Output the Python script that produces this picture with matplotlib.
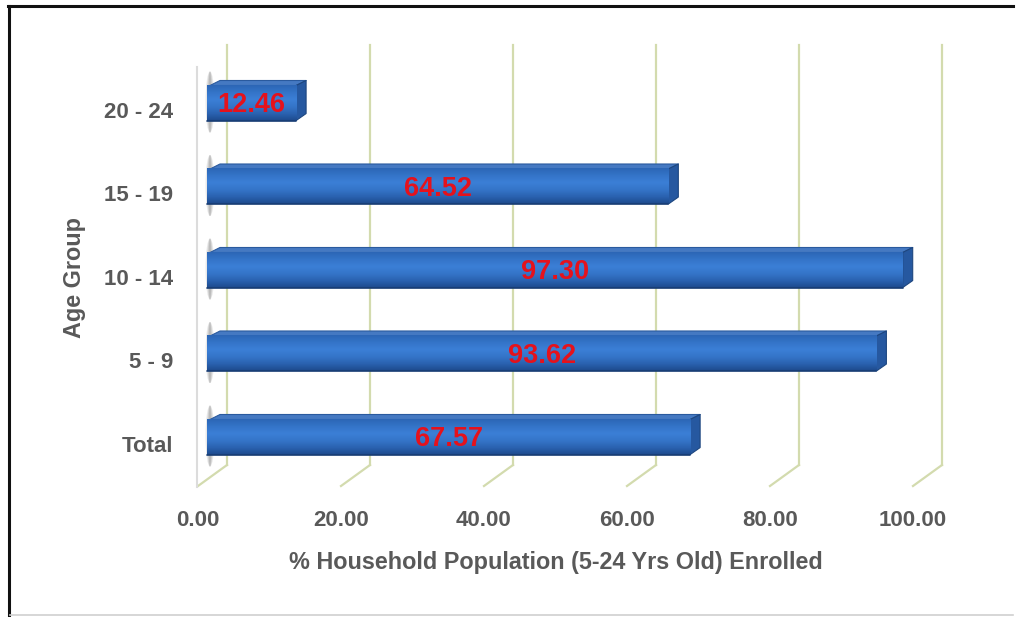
import matplotlib
matplotlib.use("Agg")
import numpy as np
import matplotlib.pyplot as plt
from matplotlib import transforms
from matplotlib import font_manager
from matplotlib.patches import Polygon, Ellipse
from matplotlib.lines import Line2D
from matplotlib.colors import LinearSegmentedColormap

# ---- data ----
categories = ["Total", "5 - 9", "10 - 14", "15 - 19", "20 - 24"]
enrolled = [67.57, 93.62, 97.30, 64.52, 12.46]
x_ticks = [0, 20, 40, 60, 80, 100]
x_tick_labels = ["0.00", "20.00", "40.00", "60.00", "80.00", "100.00"]
x_title = "% Household Population (5-24 Yrs Old) Enrolled"
y_title = "Age Group"

installed = {f.name for f in font_manager.fontManager.ttflist}
NARROW = "Liberation Sans Narrow" in installed
FONT = ["Liberation Sans Narrow" if NARROW else "Liberation Sans", "DejaVu Sans"]
TICK_SIZE = 18 if NARROW else 16
VALUE_SIZE = 21 if NARROW else 19.5
TITLE_SIZE = 18 if NARROW else 16.8

TEXT_GREY = "#595959"
GRID = "#d3dbae"
VALUE_RED = "#e5121c"

W, H = 1020, 617
DPI = 100
fig = plt.figure(figsize=(W / DPI, H / DPI), dpi=DPI)
fig.patch.set_facecolor("white")

# plot area (front face of the bars starts at x = 0)
ax = fig.add_axes([207 / W, (H - 466) / H, 715 / W, 421 / H])
ax.set_xlim(0, 100)
ax.set_ylim(-0.347, 4.695)
ax.set_autoscale_on(False)
ax.axis("off")

PIX = transforms.IdentityTransform()


def to_px(x, y):
    return ax.transData.transform((x, y))


def shifted(base, dx, dy):
    return transforms.offset_copy(base, fig=fig, x=dx, y=dy, units="dots")


def add_line(xs, ys, **kw):
    ln = Line2D(xs, ys, transform=PIX, clip_on=False, **kw)
    ax.add_artist(ln)


def add_patch(p):
    p.set_clip_on(False)
    ax.add_artist(p)


# depth of the 3-D look, in pixels
DEPTH_BACK = 20      # back wall relative to bar start
FLOOR_FRONT = -9     # floor front edge relative to bar start
BAR_DEPTH = (10, 5)

# ---- gridlines: back wall verticals + floor diagonals ----
x0_axes, y0_axes = ax.transAxes.transform((0, 0))
_, y1_axes = ax.transAxes.transform((0, 1))
for t in x_ticks:
    px, _ = to_px(t, 0)
    xb = px + DEPTH_BACK
    xf = px + FLOOR_FRONT
    add_line([xb, xb], [y0_axes + 1, y1_axes], color=GRID, lw=1.6, zorder=1)
    add_line([xb, xf], [y0_axes + 1, y0_axes - 20], color=GRID, lw=1.6, zorder=1)

# left wall front edge
xw = x0_axes + FLOOR_FRONT - 1
add_line([xw, xw], [y0_axes - 21, y1_axes - 22], color="#dcdcdc", lw=1.5, zorder=1)

# ---- bars ----
bar_h = 0.42
front_cmap = LinearSegmentedColormap.from_list(
    "front", ["#1d4a8c", "#2a62b0", "#3575c9", "#3b7fd6", "#3474c8", "#2c66b6"])
grad = np.linspace(0, 1, 64).reshape(-1, 1)

for i, v in enumerate(enrolled):
    lo, hi = i - bar_h / 2, i + bar_h / 2
    (xl, yb) = to_px(0, lo)
    (xr, yt) = to_px(v, hi)
    dx, dy = BAR_DEPTH

    # soft shadow of the bar end on the left wall
    for k, a in ((9, 0.18), (6, 0.25), (3, 0.3)):
        add_patch(Ellipse((xl + 3, (yb + yt) / 2 + 1), k, (yt - yb) + 26,
                          transform=PIX, facecolor="#8a8a8a", edgecolor="none",
                          alpha=a, zorder=2))

    # top face
    add_patch(Polygon([(xl + 3, yt), (xr, yt), (xr + dx, yt + dy), (xl + 3 + dx, yt + dy)],
                      closed=True, transform=PIX, facecolor="#4579c2",
                      edgecolor="#2a5a9e", lw=0.8, joinstyle="round", zorder=3))
    # right side face
    add_patch(Polygon([(xr, yb), (xr, yt), (xr + dx, yt + dy), (xr + dx, yb + dy + 2)],
                      closed=True, transform=PIX, facecolor="#2658a0",
                      edgecolor="#1d467f", lw=0.8, joinstyle="round", zorder=3))

    # front face
    ax.barh(i, v, height=bar_h, left=0, color="#2f6cbf", edgecolor="none",
            zorder=4, clip_on=False)
    ax.imshow(grad, extent=[0, v, lo, hi], origin="lower", aspect="auto",
              cmap=front_cmap, zorder=4.5, clip_on=False, interpolation="bilinear")
    ax.plot([0, v], [lo, lo], color="#173c73", lw=1.2, zorder=5,
            solid_capstyle="round", clip_on=False)

    # value label
    ax.text(v / 2, i, f"{v:.2f}", transform=shifted(ax.transData, 0, -2),
            ha="center", va="center", color=VALUE_RED, fontsize=VALUE_SIZE,
            fontweight="bold", family=FONT, zorder=6, clip_on=False)

ax.set_xlim(0, 100)
ax.set_ylim(-0.347, 4.695)

# ---- tick labels ----
xlab_tr = transforms.blended_transform_factory(ax.transData, ax.transAxes)
for t, lab in zip(x_ticks, x_tick_labels):
    ax.text(t, 0, lab, transform=shifted(xlab_tr, FLOOR_FRONT, -55),
            ha="center", va="center", color=TEXT_GREY, fontsize=TICK_SIZE,
            fontweight="bold", family=FONT, clip_on=False)

for i, cat in enumerate(categories):
    ax.text(0, i, cat, transform=shifted(ax.transData, -34, -9),
            ha="right", va="center", color=TEXT_GREY, fontsize=TICK_SIZE,
            fontweight="bold", family=FONT, clip_on=False)

fig.text(556 / W, 1 - 563 / H, x_title, ha="center", va="center",
         color=TEXT_GREY, fontsize=TITLE_SIZE, fontweight="bold", family=FONT)
fig.text(75 / W, 1 - 277 / H, y_title, ha="center", va="center", rotation=90,
         color=TEXT_GREY, fontsize=TITLE_SIZE, fontweight="bold", family=FONT)

# ---- outer frame ----
fig.add_artist(Line2D([9, 9], [0, H - 6], transform=PIX, color="#111111", lw=2.2))
fig.add_artist(Line2D([8, 1013], [H - 6, H - 6], transform=PIX, color="#111111", lw=2.2))
fig.add_artist(Line2D([10, 1013], [2, 2], transform=PIX, color="#d0d0d0", lw=1.2))

fig.savefig("out.png", dpi=DPI, facecolor="white")
